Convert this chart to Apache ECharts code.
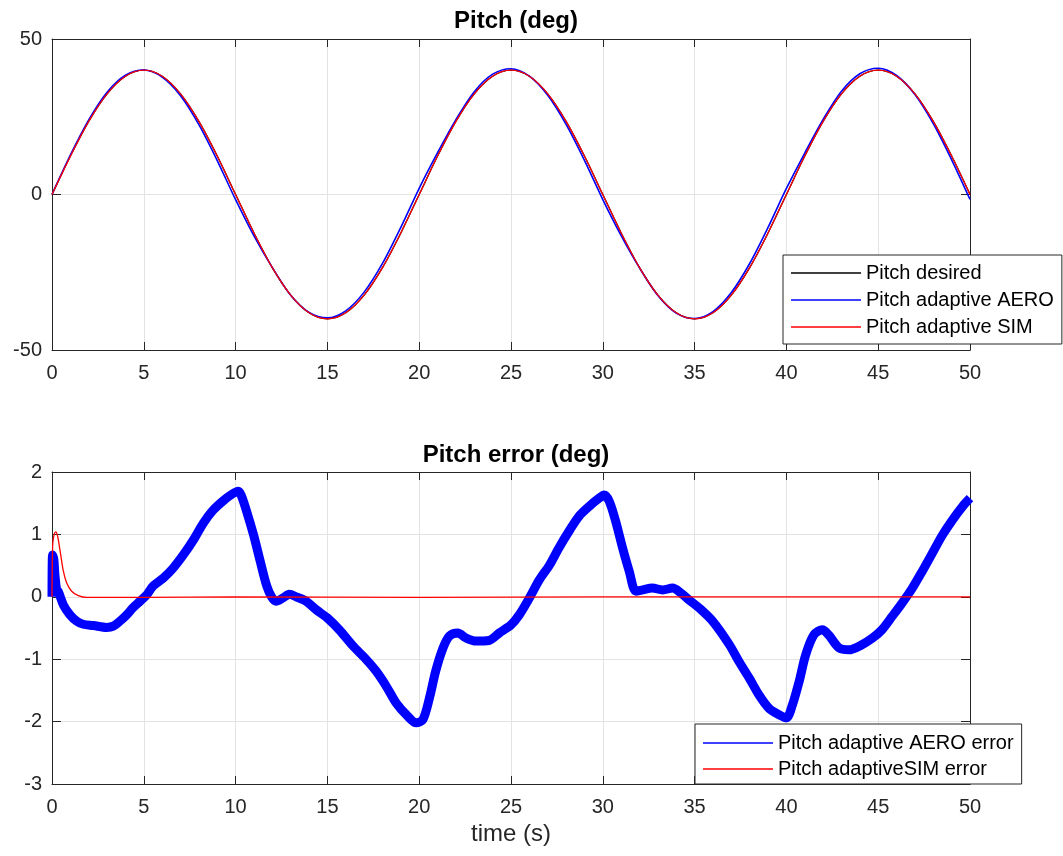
<!DOCTYPE html>
<html>
<head>
<meta charset="utf-8">
<title>Pitch</title>
<script src="https://cdn.jsdelivr.net/npm/echarts@6/dist/echarts.min.js"></script>
<style>
  html, body { margin: 0; padding: 0; background: #fff; }
  #chart { width: 1063px; height: 856px; }
</style>
</head>
<body>
<div id="chart"></div>
<script>
// top plot: pitch (deg), one value per second
const tTop = [0, 1, 2, 3, 4, 5, 6, 7, 8, 9, 10, 11, 12, 13, 14, 15, 16, 17, 18, 19, 20,
  21, 22, 23, 24, 25, 26, 27, 28, 29, 30, 31, 32, 33, 34, 35, 36, 37, 38, 39, 40,
  41, 42, 43, 44, 45, 46, 47, 48, 49, 50]
const pitchDesired = [0, 12.36, 23.51, 32.36, 38.04, 40, 38.04, 32.36, 23.51, 12.36, 0,
  -12.36, -23.51, -32.36, -38.04, -40, -38.04, -32.36, -23.51, -12.36, 0,
  12.36, 23.51, 32.36, 38.04, 40, 38.04, 32.36, 23.51, 12.36, 0,
  -12.36, -23.51, -32.36, -38.04, -40, -38.04, -32.36, -23.51, -12.36, 0,
  12.36, 23.51, 32.36, 38.04, 40, 38.04, 32.36, 23.51, 12.36, 0]
const pitchAero = [0, 12.65, 23.96, 32.85, 38.34, 40.02, 37.75, 31.76, 22.45, 10.9, -1.68,
  -13.33, -23.49, -32.39, -37.9, -39.66, -37.39, -31.39, -22.17, -10.56, 2.0,
  13.46, 24.1, 33.06, 38.69, 40.45, 38.06, 31.89, 22.53, 10.98, -1.62,
  -13.23, -23.61, -32.48, -38.14, -39.87, -37.65, -31.53, -22.19, -10.6, 1.94,
  13.34, 24.13, 33.2, 38.82, 40.58, 38.26, 32.15, 22.79, 11.15, -1.58]
const pitchSim = [0, 12.27, 23.5, 32.36, 38.04, 40, 38.04, 32.36, 23.51, 12.36, 0,
  -12.36, -23.51, -32.36, -38.04, -40, -38.04, -32.36, -23.51, -12.36, 0,
  12.36, 23.51, 32.36, 38.04, 40, 38.04, 32.36, 23.51, 12.36, 0,
  -12.36, -23.51, -32.36, -38.04, -40, -38.04, -32.36, -23.51, -12.36, 0,
  12.36, 23.51, 32.36, 38.04, 40, 38.04, 32.36, 23.51, 12.36, 0]

// bottom plot: pitch error (deg)
const tErrAero = [0, 0.03, 0.1, 0.16, 0.25, 0.35, 0.62, 0.98, 1.34, 1.7, 2.25, 2.98, 3.34, 3.7,
  4.07, 4.43, 4.8, 5.16, 5.5, 6.06, 6.6, 7.15, 7.7, 8.24, 8.78, 9.33, 9.78, 10.15, 10.3,
  10.6, 10.98, 11.34, 11.7, 11.96, 12.2, 12.57, 12.93, 13.3, 13.84, 14.4, 15.0, 15.65,
  16.4, 17.1, 17.65, 18.2, 18.74, 19.3, 19.84, 20.2, 20.56, 20.9, 21.3, 21.64, 22.1,
  22.55, 23.1, 23.8, 24.36, 25.0, 25.45, 26.0, 26.54, 27.1, 27.6, 28.2, 28.7, 29.26,
  29.8, 30.08, 30.35, 30.7, 31.08, 31.44, 31.8, 32.17, 32.7, 33.26, 33.8, 34.26, 34.7,
  35.25, 35.98, 36.9, 37.4, 37.97, 38.5, 39.06, 39.6, 40.0, 40.33, 40.7, 41.05, 41.5,
  41.96, 42.3, 42.87, 43.4, 44.1, 44.7, 45.2, 45.77, 46.3, 46.86, 47.4, 47.95, 48.5,
  49.04, 49.6, 50.0]
const errAero = [0, 0.67, 0.6, 0.35, 0.12, 0.08, -0.13, -0.29, -0.39, -0.44, -0.46, -0.49, -0.47, -0.39,
  -0.29, -0.17, -0.07, 0.03, 0.17, 0.30, 0.46, 0.67, 0.91, 1.18, 1.39, 1.54, 1.64, 1.69, 1.63,
  1.37, 0.99, 0.57, 0.17, 0.0, -0.07, -0.02, 0.04, 0.0, -0.07, -0.21, -0.34, -0.53,
  -0.79, -1.0, -1.19, -1.43, -1.70, -1.89, -2.02, -1.97, -1.62, -1.19, -0.82, -0.63, -0.58,
  -0.66, -0.71, -0.70, -0.58, -0.45, -0.29, -0.02, 0.27, 0.51, 0.78, 1.07, 1.29, 1.45,
  1.58, 1.63, 1.53, 1.21, 0.78, 0.41, 0.09, 0.11, 0.14, 0.11, 0.14, 0.06, -0.05,
  -0.18, -0.39, -0.77, -1.03, -1.30, -1.57, -1.79, -1.89, -1.94, -1.73, -1.35, -0.93, -0.61,
  -0.53, -0.61, -0.82, -0.85, -0.77, -0.66, -0.53, -0.31, -0.10, 0.14, 0.41, 0.70, 0.99,
  1.23, 1.45, 1.58]
const tErrSim = [0, 0.04, 0.12, 0.2, 0.3, 0.45, 0.62, 0.8, 1.07, 1.43, 1.9, 3, 5, 10, 20, 30, 40, 50]
const errSim = [0, 0.85, 1.0, 1.04, 0.98, 0.72, 0.41, 0.22, 0.09, 0.02, -0.01, -0.01, -0.01, 0, -0.01, 0, 0, 0]

const xTicks = { min: 0, max: 50, interval: 5 }
const pitchTicks = { min: -50, max: 50, interval: 50 }
const errTicks = { min: -3, max: 2, interval: 1 }

const font = 'Liberation Sans, Arial, Helvetica, sans-serif'
const axisColor = '#262626'
const gridColor = '#e3e3e3'

function pairs (xs, ys) {
  return xs.map((x, i) => [x, ys[i]])
}

// main axis (labels, grid) + mirror axis for the box
function xAxes (gridIndex, withName) {
  return [{
    type: 'value', gridIndex: gridIndex, position: 'bottom',
    min: xTicks.min, max: xTicks.max, interval: xTicks.interval,
    axisLine: { onZero: false, lineStyle: { color: axisColor, width: 1 } },
    axisTick: { inside: true, length: 8, lineStyle: { color: axisColor } },
    axisLabel: { margin: 13, fontSize: 20, color: axisColor, fontFamily: font },
    splitLine: { show: true, lineStyle: { color: gridColor, width: 1 } },
    name: withName ? 'time (s)' : '',
    nameLocation: 'middle',
    nameGap: 38,
    nameTextStyle: { fontSize: 24, color: axisColor, fontFamily: font }
  }, {
    type: 'value', gridIndex: gridIndex, position: 'top',
    min: xTicks.min, max: xTicks.max, interval: xTicks.interval,
    axisLine: { onZero: false, lineStyle: { color: axisColor, width: 1 } },
    axisTick: { inside: true, length: 8, lineStyle: { color: axisColor } },
    axisLabel: { show: false },
    splitLine: { show: false }
  }]
}

function yAxes (gridIndex, ticks) {
  return [{
    type: 'value', gridIndex: gridIndex, position: 'left',
    min: ticks.min, max: ticks.max, interval: ticks.interval,
    axisLine: { show: true, onZero: false, lineStyle: { color: axisColor, width: 1 } },
    axisTick: { show: true, inside: true, length: 9, lineStyle: { color: axisColor } },
    axisLabel: { margin: 10, fontSize: 20, color: axisColor, fontFamily: font },
    splitLine: { show: true, lineStyle: { color: gridColor, width: 1 } }
  }, {
    type: 'value', gridIndex: gridIndex, position: 'right',
    min: ticks.min, max: ticks.max, interval: ticks.interval,
    axisLine: { show: true, onZero: false, lineStyle: { color: axisColor, width: 1 } },
    axisTick: { show: true, inside: true, length: 9, lineStyle: { color: axisColor } },
    axisLabel: { show: false },
    splitLine: { show: false }
  }]
}

function lineSeries (name, xIdx, yIdx, data, color, width, z) {
  return {
    name: name, type: 'line', xAxisIndex: xIdx, yAxisIndex: yIdx,
    data: data, showSymbol: false, symbol: 'none', smooth: 0.3,
    lineStyle: { color: color, width: width }, itemStyle: { color: color },
    z: z
  }
}

// plain line samples in the legend, no markers
const legendBase = {
  orient: 'vertical',
  icon: 'rect',
  itemWidth: 70,
  itemHeight: 1.5,
  itemGap: 7,
  backgroundColor: '#fff',
  borderColor: axisColor,
  borderWidth: 1,
  borderRadius: 0,
  textStyle: { fontSize: 20, color: '#000', fontFamily: font, lineHeight: 20 },
  selectedMode: false
}

const chart = echarts.init(document.getElementById('chart'), null, { renderer: 'canvas' })
chart.setOption({
  animation: false,
  backgroundColor: '#fff',
  title: [
    { text: 'Pitch (deg)', left: 511, top: 4, textAlign: 'center',
      textStyle: { fontSize: 24, fontWeight: 'bold', color: '#000', fontFamily: font } },
    { text: 'Pitch error (deg)', left: 511, top: 438, textAlign: 'center',
      textStyle: { fontSize: 24, fontWeight: 'bold', color: '#000', fontFamily: font } }
  ],
  grid: [
    { left: 52, top: 39, width: 918, height: 311 },
    { left: 52, top: 472, width: 918, height: 312 }
  ],
  xAxis: [].concat(xAxes(0, false), xAxes(1, true)),
  yAxis: [].concat(yAxes(0, pitchTicks), yAxes(1, errTicks)),
  legend: [
    Object.assign({}, legendBase, {
      left: 783, top: 255,
      padding: [8, 8, 7, 8],
      data: ['Pitch desired', 'Pitch adaptive AERO', 'Pitch adaptive SIM']
    }),
    Object.assign({}, legendBase, {
      left: 695, top: 724,
      itemGap: 6,
      padding: [9, 8, 5, 8],
      data: ['Pitch adaptive AERO error', 'Pitch adaptiveSIM error']
    })
  ],
  series: [
    lineSeries('Pitch desired', 0, 0, pairs(tTop, pitchDesired), '#000000', 1.3, 2),
    lineSeries('Pitch adaptive AERO', 0, 0, pairs(tTop, pitchAero), '#0000ff', 1.6, 3),
    lineSeries('Pitch adaptive SIM', 0, 0, pairs(tTop, pitchSim), '#ff0000', 1.3, 4),
    lineSeries('Pitch adaptive AERO error', 2, 2, pairs(tErrAero, errAero), '#0000ff', 9, 3),
    lineSeries('Pitch adaptiveSIM error', 2, 2, pairs(tErrSim, errSim), '#ff0000', 1.3, 4)
  ]
})
</script>
</body>
</html>
